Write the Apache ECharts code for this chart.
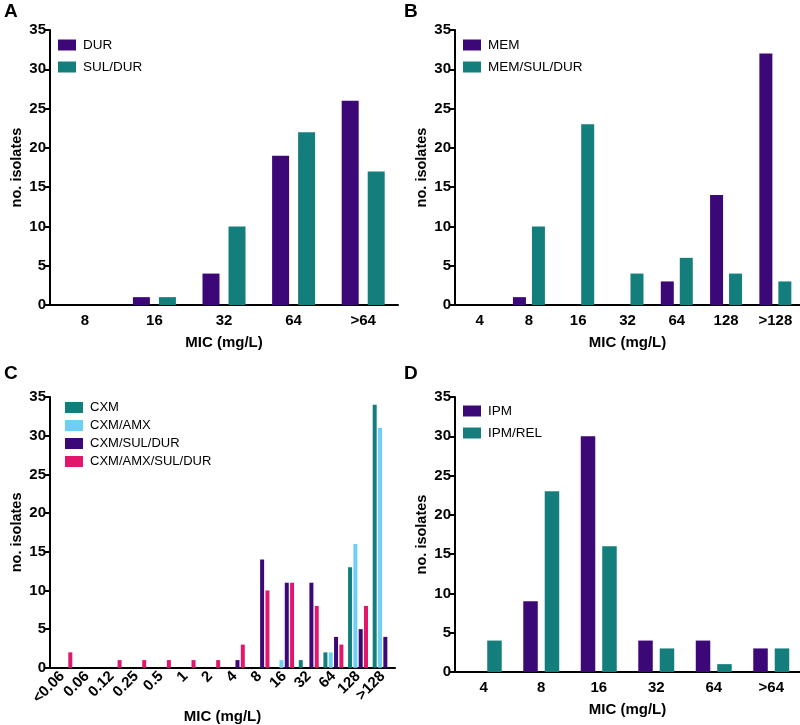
<!DOCTYPE html>
<html>
<head>
<meta charset="utf-8">
<script src="https://cdn.jsdelivr.net/npm/echarts@6/dist/echarts.min.js"></script>
<style>
html,body{margin:0;padding:0;background:#fff;}
#c{width:800px;height:725px;}
</style>
</head>
<body>
<div id="c"></div>
<script>
// Panel A
const catsA = ['8', '16', '32', '64', '>64'];
const durA = [0, 1, 4, 19, 26];
const sulDurA = [0, 1, 10, 22, 17];
// Panel B
const catsB = ['4', '8', '16', '32', '64', '128', '>128'];
const memB = [0, 1, 0, 0, 3, 14, 32];
const memSulDurB = [0, 10, 23, 4, 6, 4, 3];
// Panel C
const catsC = ['<0.06', '0.06', '0.12', '0.25', '0.5', '1', '2', '4', '8', '16', '32', '64', '128', '>128'];
const cxmC = [0, 0, 0, 0, 0, 0, 0, 0, 0, 0, 1, 2, 13, 34];
const cxmAmxC = [0, 0, 0, 0, 0, 0, 0, 0, 0, 1, 0, 2, 16, 31];
const cxmSulDurC = [0, 0, 0, 0, 0, 0, 0, 1, 14, 11, 11, 4, 5, 4];
const cxmAmxSulDurC = [2, 0, 1, 1, 1, 1, 1, 3, 10, 11, 8, 3, 8, 0];
// Panel D
const catsD = ['4', '8', '16', '32', '64', '>64'];
const ipmD = [0, 9, 30, 4, 4, 3];
const ipmRelD = [4, 23, 16, 3, 1, 3];

const yTicks = [0, 5, 10, 15, 20, 25, 30, 35];

const PURPLE = '#3c0878';
const TEAL = '#137e7b';
const LBLUE = '#6ecff6';
const PINK = '#e2176b';
const FONT = '"Liberation Sans", Arial, Helvetica, sans-serif';

const grids = [
  {left: 50, top: 30, width: 348, height: 275},
  {left: 455, top: 30, width: 345, height: 275},
  {left: 50, top: 397, width: 345, height: 275},
  {left: 455, top: 397, width: 345, height: 275}
];

function xAxis(i, cats, rotate) {
  return {
    type: 'category', gridIndex: i, data: cats,
    axisLine: {lineStyle: {color: '#000', width: 2}},
    axisTick: {alignWithLabel: true, length: 6, lineStyle: {color: '#000', width: 2}},
    axisLabel: {color: '#000', fontFamily: FONT, fontWeight: 'bold', fontSize: 15,
      rotate: rotate || 0, margin: rotate ? 6 : 8, interval: 0},
    name: 'MIC (mg/L)', nameLocation: 'middle', nameGap: rotate ? 29 : 30,
    nameTextStyle: {color: '#000', fontFamily: FONT, fontWeight: 'bold', fontSize: 15}
  };
}
function yAxis(i) {
  return {
    type: 'value', gridIndex: i, min: yTicks[0], max: yTicks[yTicks.length - 1], interval: 5,
    axisLine: {show: true, lineStyle: {color: '#000', width: 2}},
    axisTick: {show: true, length: 6, lineStyle: {color: '#000', width: 2}},
    splitLine: {show: false},
    axisLabel: {color: '#000', fontFamily: FONT, fontWeight: 'bold', fontSize: 15, margin: 4},
    name: 'no. isolates', nameLocation: 'middle', nameGap: 26,
    nameTextStyle: {color: '#000', fontFamily: FONT, fontWeight: 'bold', fontSize: 14.5}
  };
}
function bar(name, data, i, color, width, gap) {
  return {
    type: 'bar', name: name, data: data, xAxisIndex: i, yAxisIndex: i,
    barWidth: width, barGap: gap, itemStyle: {color: color}, silent: true
  };
}
function legend(x, y, names, gap, fs) {
  return {
    left: x, top: y, orient: 'vertical', data: names, itemWidth: 18, itemHeight: 11,
    itemGap: gap, icon: 'rect', selectedMode: false, padding: 0,
    textStyle: {color: '#000', fontFamily: FONT, fontSize: fs, padding: [0, 0, 0, 2]}
  };
}

const chart = echarts.init(document.getElementById('c'), null, {renderer: 'canvas'});
chart.setOption({
  animation: false,
  backgroundColor: '#fff',
  title: [
    {text: 'A', left: 4, top: 2},
    {text: 'B', left: 404, top: 2},
    {text: 'C', left: 4, top: 364},
    {text: 'D', left: 404, top: 364}
  ].map(t => Object.assign(t, {padding: 0, textStyle: {fontFamily: FONT, fontWeight: 'bold', fontSize: 19, color: '#000'}})),
  grid: grids,
  xAxis: [xAxis(0, catsA), xAxis(1, catsB), xAxis(2, catsC, 45), xAxis(3, catsD)],
  yAxis: [yAxis(0), yAxis(1), yAxis(2), yAxis(3)],
  legend: [
    legend(58, 38, ['DUR', 'SUL/DUR'], 8, 13.5),
    legend(463, 38, ['MEM', 'MEM/SUL/DUR'], 8, 13.5),
    legend(65, 401, ['CXM', 'CXM/AMX', 'CXM/SUL/DUR', 'CXM/AMX/SUL/DUR'], 5, 13),
    legend(463, 404, ['IPM', 'IPM/REL'], 8, 13.5)
  ],
  series: [
    bar('DUR', durA, 0, PURPLE, 17, '53%'),
    bar('SUL/DUR', sulDurA, 0, TEAL, 17, '53%'),
    bar('MEM', memB, 1, PURPLE, 13, '46%'),
    bar('MEM/SUL/DUR', memSulDurB, 1, TEAL, 13, '46%'),
    bar('CXM', cxmC, 2, TEAL, 4, '33%'),
    bar('CXM/AMX', cxmAmxC, 2, LBLUE, 4, '33%'),
    bar('CXM/SUL/DUR', cxmSulDurC, 2, PURPLE, 4, '33%'),
    bar('CXM/AMX/SUL/DUR', cxmAmxSulDurC, 2, PINK, 4, '33%'),
    bar('IPM', ipmD, 3, PURPLE, 14.5, '48%'),
    bar('IPM/REL', ipmRelD, 3, TEAL, 14.5, '48%')
  ]
});
</script>
</body>
</html>
